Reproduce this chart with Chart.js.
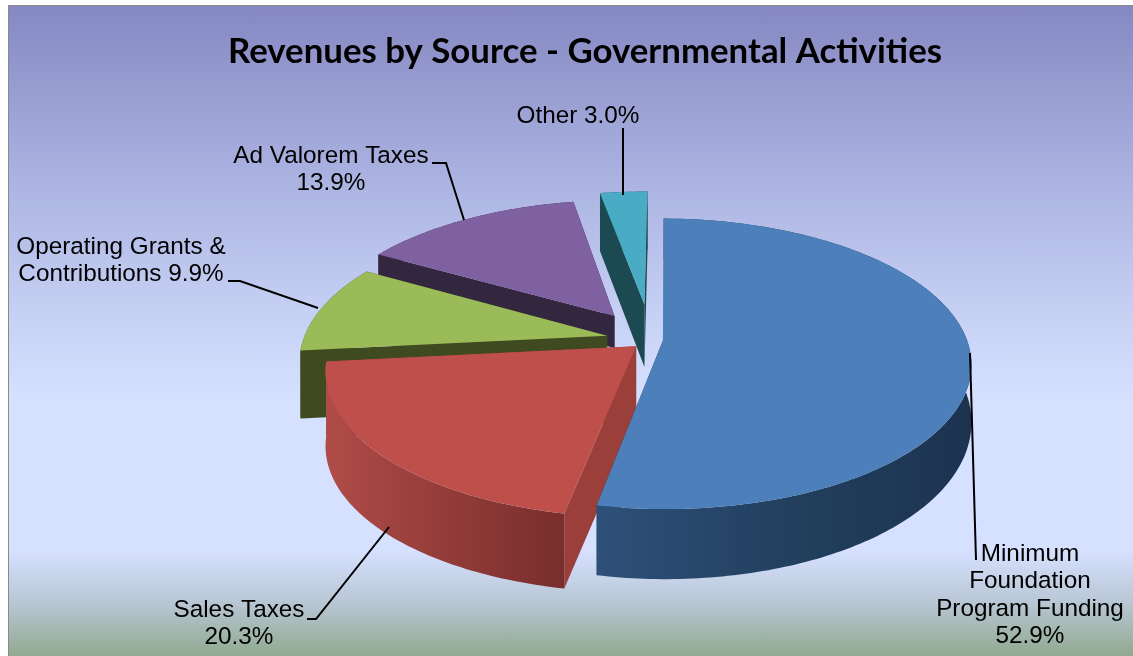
<!DOCTYPE html>
<html>
<head>
<meta charset="utf-8">
<script src="https://cdn.jsdelivr.net/npm/chart.js@4"></script>
<style>
  html, body { margin: 0; padding: 0; background: #fff; }
  #frame {
    position: absolute; left: 8px; top: 5px; width: 1125px; height: 651px;
    box-sizing: border-box; border: 1px solid #8a8a8a; border-bottom: 0; border-right: 0;
    background: linear-gradient(to bottom, #8588c2 0, #a6addd 150px, #c5cff3 300px, #d6e0ff 395px, #d6e0ff 545px, #b9c7d6 595px, #90a98f 651px);
  }
  canvas { position: absolute; left: 0; top: 0; }
</style>
</head>
<body>
<div id="frame"></div>
<canvas id="revenueChart" width="1133" height="656"></canvas>
<script>
const titleText = "Revenues by Source - Governmental Activities";
const categories = ["Minimum Foundation Program Funding", "Sales Taxes", "Operating Grants & Contributions", "Ad Valorem Taxes", "Other"];
const shares = [52.9, 20.3, 9.9, 13.9, 3.0];
const labelLines = [
  ["Minimum", "Foundation", "Program Funding", "{v}"],
  ["Sales Taxes", "{v}"],
  ["Operating Grants &", "Contributions {v}"],
  ["Ad Valorem Taxes", "{v}"],
  ["Other {v}"],
];

// how far each slice is pulled out of the pie
const sliceOffset = [12, 20, 45, 65, 80];

// look of the slices
const topColors = ["#4d7fba", "#be4f4b", "#9bbb59", "#7f60a0", "#4aabc5"];
const faceColors = ["#1c3350", "#9b3f3b", "#404a20", "#33263f", "#1c4a52"];
const wallStops = [
  ["#2e5079", "#22405f", "#1c3350"],
  ["#b04c47", "#933c39", "#772e2c"],
  ["#404a20", "#404a20", "#404a20"],
  ["#33263f", "#33263f", "#33263f"],
  ["#1c4a52", "#1c4a52", "#1c4a52"],
];
const wallDepth = [55, 75, 68, 36, 64];
const wallTaper = [15, 0, 0, 22, 5];
const drawOrder = [4, 3, 2, 1, 0];

// tilt and perspective of the fake 3D view
const tilt = 0.465;
const perspective = 0.16;

// centre x, first line y, and leader polyline for each label
const labelBoxes = [
  { x: 1030, y: 554, leader: [[970, 353], [976, 560]] },
  { x: 239, y: 610, leader: [[307, 619], [316, 619], [389, 527]] },
  { x: 121, y: 247, leader: [[228, 281], [240, 281], [318, 308]] },
  { x: 331, y: 156, leader: [[432, 163], [446, 163], [464, 220]] },
  { x: 578, y: 116, leader: [[623, 128], [623, 195]] },
];
const lineGap = 27.5;

// maps a point of the flat pie on to the tilted view
function project(arc, angle, radius, offset) {
  const mid = (arc.startAngle + arc.endAngle) / 2;
  const u = Math.cos(angle) * radius + Math.cos(mid) * offset;
  const v = Math.sin(angle) * radius + Math.sin(mid) * offset;
  const s = 1 / (1 - perspective * v / arc.outerRadius);
  return { x: arc.x + u * s, y: arc.y + v * tilt * s, v: v };
}

function slicePoints(arc) {
  const offset = arc.options.offset;
  const pts = [];
  const n = Math.max(4, Math.ceil((arc.endAngle - arc.startAngle) * 60));
  for (let i = 0; i <= n; i++) {
    const a = arc.startAngle + (arc.endAngle - arc.startAngle) * i / n;
    pts.push(project(arc, a, arc.outerRadius, offset));
  }
  return { apex: project(arc, arc.startAngle, 0, offset), rim: pts };
}

function tracePoly(ctx, pts) {
  ctx.beginPath();
  pts.forEach((p, i) => (i ? ctx.lineTo(p.x, p.y) : ctx.moveTo(p.x, p.y)));
  ctx.closePath();
}

const pie3d = {
  id: "pie3d",
  beforeDatasetsDraw(chart) {
    const ctx = chart.ctx;
    const arcs = chart.getDatasetMeta(0).data;
    drawOrder.forEach((i) => {
      const arc = arcs[i];
      const { apex, rim } = slicePoints(arc);
      const down = (p) => ({ x: p.x, y: p.y + wallDepth[i] + wallTaper[i] * p.v / arc.outerRadius });

      // cut faces
      ctx.fillStyle = faceColors[i];
      [rim[0], rim[rim.length - 1]].forEach((p) => {
        tracePoly(ctx, [apex, p, down(p), down(apex)]);
        ctx.fill();
      });

      // curved wall
      const xs = rim.map((p) => p.x);
      const grad = ctx.createLinearGradient(Math.min(...xs), 0, Math.max(...xs), 0);
      wallStops[i].forEach((c, k) => grad.addColorStop(k / 2, c));
      ctx.fillStyle = grad;
      tracePoly(ctx, rim.concat(rim.map(down).reverse()));
      ctx.fill();

      // top of the slice
      ctx.fillStyle = topColors[i];
      tracePoly(ctx, [apex].concat(rim));
      ctx.fill();
    });
    return false;
  },
  afterDraw(chart) {
    const ctx = chart.ctx;
    ctx.save();
    ctx.strokeStyle = "#000";
    ctx.lineWidth = 2;
    ctx.fillStyle = "#000";
    ctx.font = "24.3px 'Liberation Sans', Arial, sans-serif";
    ctx.textAlign = "center";
    ctx.textBaseline = "middle";
    labelBoxes.forEach((box, i) => {
      labelLines[i].forEach((line, k) => {
        ctx.fillText(line.replace("{v}", shares[i].toFixed(1) + "%"), box.x, box.y + k * lineGap);
      });
      ctx.beginPath();
      box.leader.forEach((p, k) => (k ? ctx.lineTo(p[0], p[1]) : ctx.moveTo(p[0], p[1])));
      ctx.stroke();
    });
    ctx.restore();
  },
};

new Chart(document.getElementById("revenueChart"), {
  type: "pie",
  data: {
    labels: categories,
    datasets: [{ data: shares, backgroundColor: topColors, offset: sliceOffset, borderWidth: 0 }],
  },
  options: {
    responsive: false,
    animation: false,
    radius: 304,
    rotation: 0.5,
    layout: { padding: { left: 169, top: 24 } },
    plugins: {
      legend: { display: false },
      tooltip: { enabled: false },
      title: { display: false },
    },
  },
  plugins: [
    pie3d,
    {
      id: "chartTitle",
      afterDraw(chart) {
        const ctx = chart.ctx;
        ctx.save();
        ctx.fillStyle = "#000";
        ctx.font = "700 34.8px Lato, sans-serif";
        ctx.textAlign = "center";
        ctx.textBaseline = "middle";
        ctx.fillText(titleText, 585, 52);
        ctx.restore();
      },
    },
  ],
});
</script>
</body>
</html>
